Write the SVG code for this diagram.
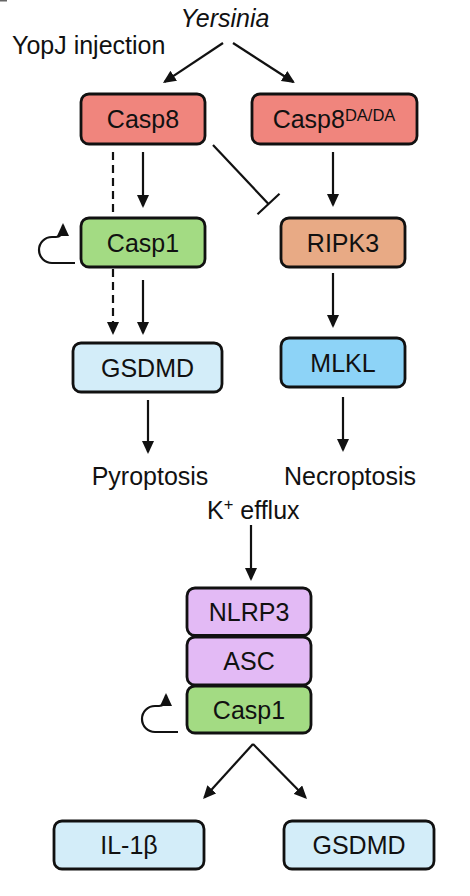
<svg xmlns="http://www.w3.org/2000/svg" width="470" height="896" viewBox="0 0 470 896">
<defs>
<marker id="ah" markerUnits="userSpaceOnUse" markerWidth="13" markerHeight="12" refX="11" refY="6" orient="auto">
<path d="M0,0 L13,6 L0,12 z" fill="#111"/>
</marker>
<style>
.box{stroke:#111;stroke-width:2.8}
.t{font-family:"Liberation Sans",Arial,sans-serif;font-size:25px;fill:#111;text-anchor:middle}
.c{stroke:#111;stroke-width:2.2;fill:none}
.a{marker-end:url(#ah)}
.casp8{fill:#F0857D}
.casp1{fill:#A3DB83}
.ripk3{fill:#E8AA85}
.mlkl{fill:#8DD3F7}
.gsdmd{fill:#D3EDF9}
.purple{fill:#E3BAF5}
</style>
</defs>
<rect x="0" y="0" width="470" height="896" fill="#fff"/>
<rect x="0" y="0" width="7" height="1.5" fill="#666"/>
<g id="labels">
<text class="t" x="225" y="27" font-style="italic">Yersinia</text>
<text class="t" x="12" y="54" style="text-anchor:start">YopJ injection</text>
<text class="t" x="150" y="485">Pyroptosis</text>
<text class="t" x="350" y="485">Necroptosis</text>
<text class="t" x="207" y="519" style="text-anchor:start">K<tspan font-size="16.5" dy="-9">+</tspan><tspan dy="9"> efflux</tspan></text>
</g>
<g id="connectors">
<line class="c a" x1="223" y1="43" x2="164.6" y2="81.9"/>
<line class="c a" x1="233" y1="43" x2="293.3" y2="82"/>
<line class="c a" x1="143" y1="152" x2="143" y2="206"/>
<line class="c a" x1="113" y1="152" x2="113" y2="333" stroke-dasharray="8,5"/>
<line class="c a" x1="143" y1="280" x2="143" y2="333"/>
<line class="c" x1="213" y1="145" x2="268.5" y2="204"/>
<line class="c" x1="257.5" y1="214.2" x2="279.5" y2="193.8"/>
<line class="c a" x1="333" y1="152" x2="333" y2="205"/>
<line class="c a" x1="333" y1="273" x2="333" y2="326"/>
<line class="c a" x1="148" y1="400" x2="148" y2="452"/>
<line class="c a" x1="343" y1="397" x2="343" y2="450"/>
<line class="c a" x1="251" y1="525" x2="251" y2="579"/>
<line class="c a" x1="253" y1="744" x2="204.4" y2="797.5"/>
<line class="c a" x1="253" y1="744" x2="305.6" y2="797.5"/>
<path class="c a" d="M75,263 H52 A13,13 0 0 1 52,237 H56 A7,7 0 0 0 63,230 V225"/>
<path class="c a" d="M178,732 H155 A13,13 0 0 1 155,706 H159 A7,7 0 0 0 166,699 V695"/>
</g>
<g id="casp8">
<rect class="box casp8" x="81" y="94" width="124" height="50" rx="8"/>
<text class="t" x="143" y="127.5">Casp8</text>
</g>
<g id="casp8da">
<rect class="box casp8" x="252" y="94" width="165" height="50" rx="8"/>
<text class="t" x="334" y="127.5">Casp8<tspan font-size="16.5" dy="-7">DA/DA</tspan></text>
</g>
<g id="casp1">
<rect class="box casp1" x="81" y="218" width="124" height="49" rx="8"/>
<text class="t" x="143" y="251.5">Casp1</text>
</g>
<g id="ripk3">
<rect class="box ripk3" x="281" y="218" width="124" height="49" rx="8"/>
<text class="t" x="343" y="251.5">RIPK3</text>
</g>
<g id="gsdmd1">
<rect class="box gsdmd" x="73" y="343" width="149" height="49" rx="8"/>
<text class="t" x="147.5" y="376.5">GSDMD</text>
</g>
<g id="mlkl">
<rect class="box mlkl" x="281" y="338" width="124" height="49" rx="8"/>
<text class="t" x="343" y="371.5">MLKL</text>
</g>
<g id="nlrp3">
<rect class="box purple" x="187" y="588" width="124" height="47.5" rx="8"/>
<text class="t" x="249" y="620.5">NLRP3</text>
</g>
<g id="asc">
<rect class="box purple" x="187" y="637" width="124" height="48" rx="8"/>
<text class="t" x="249" y="670">ASC</text>
</g>
<g id="casp1b">
<rect class="box casp1" x="187" y="686" width="124" height="47" rx="8"/>
<text class="t" x="249" y="718.5">Casp1</text>
</g>
<g id="il1b">
<rect class="box gsdmd" x="54" y="821" width="150" height="48" rx="8"/>
<text class="t" x="129" y="854">IL-1β</text>
</g>
<g id="gsdmd2">
<rect class="box gsdmd" x="284" y="821" width="150" height="48" rx="8"/>
<text class="t" x="359" y="854">GSDMD</text>
</g>
</svg>
